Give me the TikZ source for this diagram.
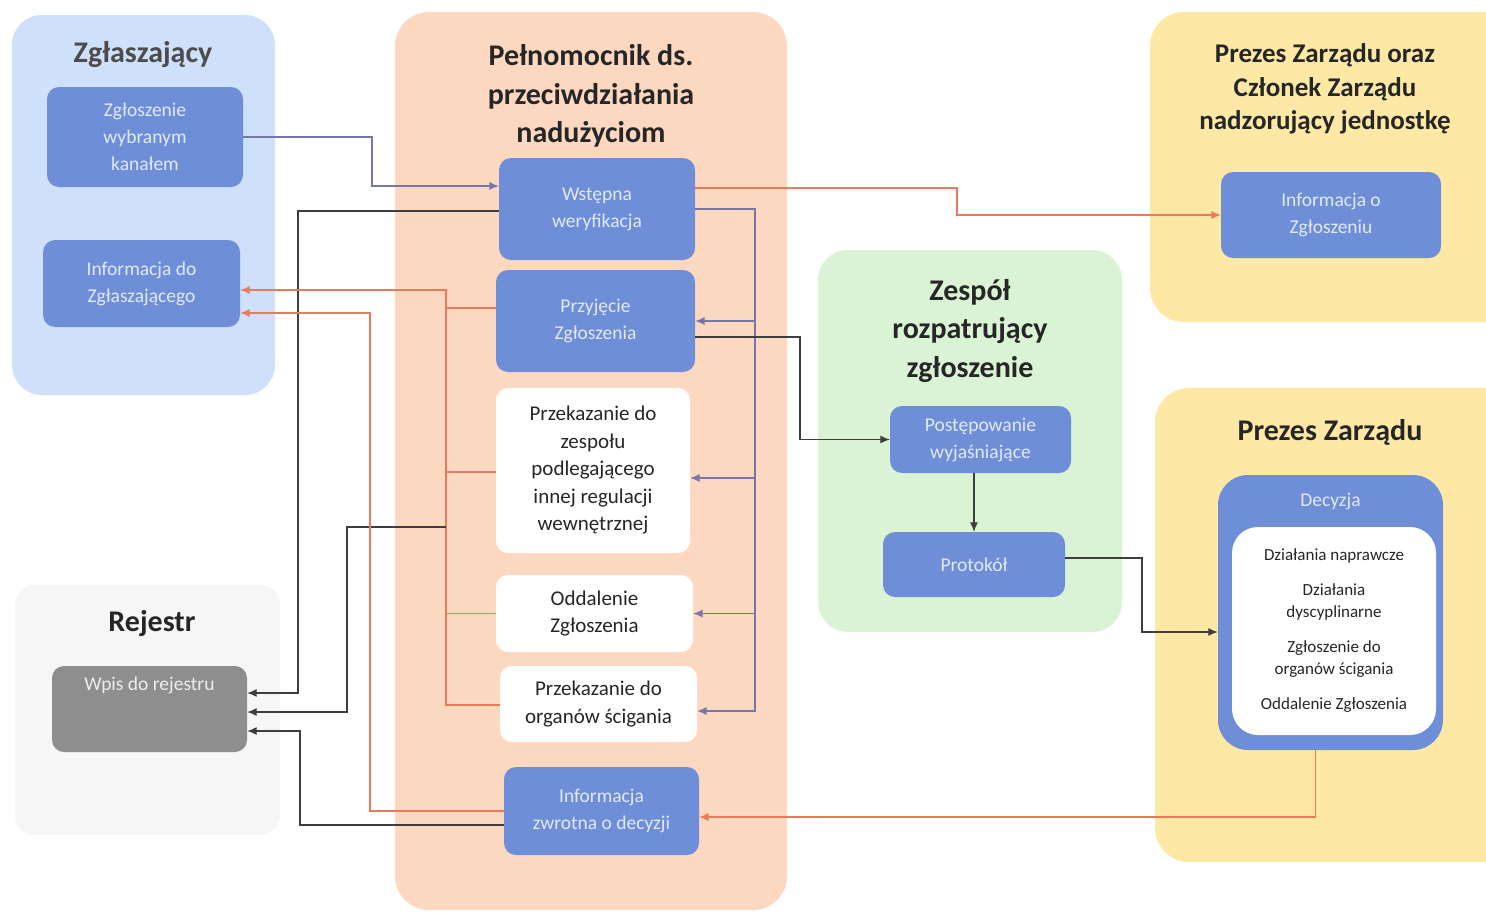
\documentclass[tikz,border=0pt]{standalone}
\usepackage{fontspec}
\setmainfont{Carlito}
\usepackage{tikz}
\usetikzlibrary{arrows.meta, positioning, calc}
\usepackage{xcolor}
\definecolor{grpblue}{RGB}{207,224,250}
\definecolor{grppeach}{RGB}{253,216,192}
\definecolor{grpyellow}{RGB}{254,232,165}
\definecolor{grpgreen}{RGB}{218,243,212}
\definecolor{grpgray}{RGB}{246,246,246}
\definecolor{boxblue}{RGB}{110,142,216}
\definecolor{boxtext}{RGB}{226,233,250}
\definecolor{boxgray}{RGB}{142,142,142}
\definecolor{lineorange}{RGB}{234,122,92}
\definecolor{linedark}{RGB}{62,62,62}
\definecolor{linepurple}{RGB}{118,118,168}

\begin{document}
\begin{tikzpicture}[
  x=1pt, y=-1pt,
  bluebox/.style={rectangle, fill=boxblue, text=boxtext, rounded corners=12pt, align=center, inner sep=2pt, font=\fontsize{19.5}{27}\selectfont},
  whitebox/.style={rectangle, fill=white, text=black!85, rounded corners=12pt, align=center, inner sep=2pt, font=\fontsize{21}{27.5}\selectfont},
  grpttl/.style={font=\bfseries\fontsize{30}{38.5}\selectfont, align=center, text=black!85},
  arr/.style={-{Latex[length=9.5pt,width=8pt]}, line width=1.1pt, draw=linedark},
  oarr/.style={-{Latex[length=9.5pt,width=8pt]}, line width=1.1pt, draw=lineorange},
  parr/.style={-{Latex[length=9.5pt,width=8pt]}, line width=1.1pt, draw=linepurple},
  oline/.style={line width=1.1pt, draw=lineorange},
]
  \useasboundingbox (0,0) rectangle (1486,913);

  % Swimlanes
  \fill[grpblue, rounded corners=30pt] (12,15) rectangle (275,395);
  \fill[grppeach, rounded corners=34pt] (395,12) rectangle (787,910);
  \fill[grpyellow, rounded corners=34pt] (1150,12) rectangle (1520,322);
  \fill[grpgreen, rounded corners=30pt] (818,250) rectangle (1122,632);
  \fill[grpyellow, rounded corners=34pt] (1155,388) rectangle (1520,862);
  \fill[grpgray, rounded corners=20pt] (15,585) rectangle (280,835);

  % Titles
  \node[grpttl, text=black!70] (tzgl) at (143,55) {Zgłaszający};
  \node[grpttl] (tpel) at (591,96) {Pełnomocnik ds.\\przeciwdziałania\\nadużyciom};
  \node[grpttl, font=\bfseries\fontsize{27}{33.5}\selectfont] (tzarz) at (1325,89) {Prezes Zarządu oraz\\Członek Zarządu\\nadzorujący jednostkę};
  \node[grpttl] (tzesp) at (970,331) {Zespół\\rozpatrujący\\zgłoszenie};
  \node[grpttl] (tprez) at (1330,432) {Prezes Zarządu};
  \node[grpttl] (trej) at (152,624) {Rejestr};

  % Zglaszajacy
  \node[bluebox, minimum width=196, minimum height=100] (zgl) at (145,137) {Zgłoszenie\\wybranym\\kanałem};
  \node[bluebox, minimum width=197, minimum height=87] (infzgl) at (141.5,283.5) {Informacja do\\Zgłaszającego};

  % Pelnomocnik
  \node[bluebox, minimum width=196, minimum height=102] (wst) at (597,209) {Wstępna\\weryfikacja};
  \node[bluebox, minimum width=199, minimum height=102] (przyj) at (595.5,321) {Przyjęcie\\Zgłoszenia};
  \node[whitebox, minimum width=194, minimum height=165] (przek) at (593,470.5) {Przekazanie do\\zespołu\\podlegającego\\innej regulacji\\wewnętrznej};
  \node[whitebox, minimum width=197, minimum height=77] (oddal) at (594.5,613.5) {Oddalenie\\Zgłoszenia};
  \node[whitebox, minimum width=197, minimum height=76] (organy) at (598.5,704) {Przekazanie do\\organów ścigania};
  \node[bluebox, minimum width=195, minimum height=88] (infzwr) at (601.5,811) {Informacja\\zwrotna o decyzji};

  % Zarzad
  \node[bluebox, minimum width=220, minimum height=86] (infozg) at (1331,215) {Informacja o\\Zgłoszeniu};

  % Zespol
  \node[bluebox, minimum width=181, minimum height=67] (postep) at (980.5,439.5) {Postępowanie\\wyjaśniające};
  \node[bluebox, minimum width=182, minimum height=65] (protokol) at (974,564.5) {Protokół};

  % Prezes
  \node[bluebox, minimum width=225, minimum height=275, rounded corners=30pt] (decyzja) at (1330.5,612.5) {};
  \node[bluebox, fill=none, anchor=north] (decl) at (1330.5,491) {Decyzja};
  \node[whitebox, minimum width=204, minimum height=208, rounded corners=26pt, font=\fontsize{17}{22}\selectfont] (decin) at (1334,631)
    {Działania naprawcze\\[13pt]Działania\\dyscyplinarne\\[13pt]Zgłoszenie do\\organów ścigania\\[13pt]Oddalenie Zgłoszenia};

  % Rejestr
  \node[bluebox, fill=boxgray, text=white!93!black, minimum width=195, minimum height=86, text height=15pt, text depth=52pt] (wpis) at (149.5,709) {Wpis do rejestru};

  % Helper points
  \coordinate (x372) at (372,0);
  \coordinate (x298) at (298,0);
  \coordinate (x957) at (957,0);
  \coordinate (vbus) at (755,0);
  \coordinate (x800) at (800,0);
  \coordinate (obus) at (446,0);
  \coordinate (x347) at (347,0);
  \coordinate (x370) at (370,0);
  \coordinate (x300) at (300,0);
  \coordinate (x1142) at (1142,0);
  \coordinate (obr) at (446,527);

  \coordinate (wstin) at ([yshift=23pt]wst.west);
  \coordinate (wstout) at ([yshift=-2pt]wst.west);
  \coordinate (wstor) at ([yshift=21pt]wst.east);
  \coordinate (wpis1) at ([yshift=16pt]wpis.east);
  \coordinate (wpis2) at ([yshift=-3pt]wpis.east);
  \coordinate (wpis3) at ([yshift=-22pt]wpis.east);
  \coordinate (przekin) at ([yshift=-7.5pt]przek.east);
  \coordinate (orgin) at ([yshift=-7pt]organy.east);
  \coordinate (przyjout) at ([yshift=-16pt]przyj.east);
  \coordinate (przyjl) at ([yshift=13pt]przyj.west);
  \coordinate (przekl) at ([yshift=-1.5pt]przek.west);
  \coordinate (organyl) at ([yshift=-1pt]organy.west);
  \coordinate (infz1) at ([yshift=-6.5pt]infzgl.east);
  \coordinate (infz2) at ([yshift=-29.5pt]infzgl.east);
  \coordinate (zwrout) at ([yshift=-14pt]infzwr.west);
  \coordinate (protout) at ([yshift=6.5pt]protokol.east);
  \coordinate (decin1) at ([yshift=-19.5pt]decyzja.west);
  \coordinate (zwrin) at ([yshift=-6pt]infzwr.east);
  \coordinate (decout) at ([xshift=-15pt]decyzja.south);

  % Connectors
  \draw[parr] (zgl.east) -| (x372 |- wstin) -- (wstin);
  \draw[arr] (wstout) -| (x298 |- wpis1) -- (wpis1);
  \draw[oarr] (wstor) -| (x957 |- infozg.west) -- (infozg.west);

  \draw[parr] (wst.east) -| (vbus |- orgin) -- (orgin);
  \draw[parr] (vbus |- przyj.east) -- (przyj.east);
  \draw[parr] (vbus |- przekin) -- (przekin);
  \draw[parr] (vbus |- oddal.east) -- (oddal.east);

  \draw[arr] (przyjout) -| (x800 |- postep.west) -- (postep.west);

  \draw[oarr] (organyl) -| (obus |- infz1) -- (infz1);
  \draw[oline] (przyjl) -- (obus |- przyjl);
  \draw[oline] (przekl) -- (obus |- przekl);
  \draw[oline] (oddal.west) -- (obus |- oddal.west);
  \draw[arr] (obr) -| (x347 |- wpis2) -- (wpis2);

  \draw[oarr] (infzwr.west) -| (x370 |- infz2) -- (infz2);
  \draw[arr] (zwrout) -| (x300 |- wpis3) -- (wpis3);

  \draw[arr] (postep.south -| protokol.north) -- (protokol.north);
  \draw[arr] (protout) -| (x1142 |- decin1) -- (decin1);
  \draw[oarr] (decout) |- (zwrin);
\end{tikzpicture}
\end{document}
